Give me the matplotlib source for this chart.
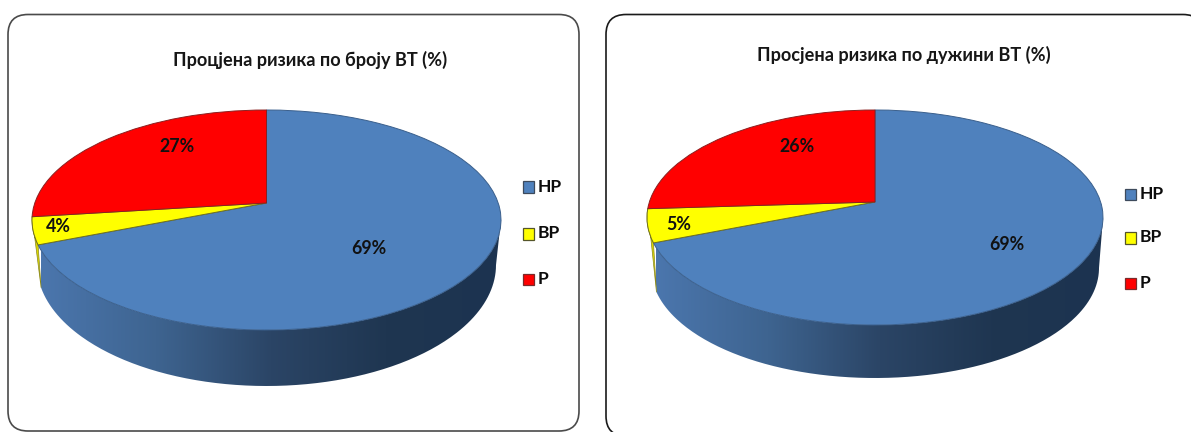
import numpy as np
import matplotlib
matplotlib.use("Agg")
import matplotlib.pyplot as plt
from matplotlib.colors import LinearSegmentedColormap
from matplotlib.patches import FancyBboxPatch, Polygon, Rectangle
from matplotlib.path import Path
from matplotlib.transforms import Transform

plt.rcParams["font.family"] = ["Lato", "Open Sans", "DejaVu Sans"]
plt.rcParams["font.weight"] = "bold"

categories = ["НР", "ВР", "Р"]
colors = ["#4f81bd", "#ffff00", "#ff0000"]
edge_colors = ["#3a5f8c", "#6f6f20", "#8a2020"]

title_count = "Процјена ризика по броју ВТ (%)"
values_count = [69, 4, 27]
title_length = "Просјена ризика по дужини ВТ (%)"
values_length = [69, 5, 26]

W, H = 1191, 432
wall_cmap = LinearSegmentedColormap.from_list(
    "wall", ["#4b76ad", "#3e6490", "#2b4566", "#1f3651", "#1c3350"])


class Tilt(Transform):
    """Perspective view of the unit disc: (x, y) on the disc to pixel position."""
    input_dims = output_dims = 2
    is_separable = False
    has_inverse = False

    def __init__(self, cx, cy, up, down, half_width):
        super().__init__()
        self.k = (down - up) / (down + up)
        self.a = up * (1 + self.k)
        self.b = half_width * np.sqrt(1 - self.k ** 2)
        self.cx, self.cy = cx, cy

    def transform_non_affine(self, values):
        xy = np.asarray(values, float)
        d = 1 + self.k * xy[:, 1]
        return np.column_stack([self.cx + self.b * xy[:, 0] / d,
                                self.cy - self.a * xy[:, 1] / d])


fig = plt.figure(figsize=(W / 100, H / 100), dpi=100, facecolor="white")
ax = fig.add_axes([0, 0, 1, 1])


def rim(tilt, degrees):
    t = np.radians(degrees)
    return tilt.transform_non_affine(np.column_stack([np.sin(t), np.cos(t)]))


def draw_panel(title, values, frame, disc, base, title_xy, label_xy, legend_x, legend_y, frame_color):
    x0, y0, x1, y1 = frame
    ax.add_patch(FancyBboxPatch((x0 + 20, y0 + 20), x1 - x0 - 40, y1 - y0 - 40,
                                boxstyle="round,pad=20,rounding_size=20", fc="white",
                                ec=frame_color, lw=1.2, zorder=1))
    ax.text(*title_xy, title, ha="center", va="center", fontsize=13.1, color="#161616", zorder=6)

    tilt = Tilt(*disc)
    cum = np.cumsum(values) / np.sum(values) * 360

    # side wall under the first slice, shaded from left to right
    arc = rim(tilt, np.linspace(40, cum[0], 300))
    arc = arc[np.argmax(arc[:, 0]):]
    bx, by, brx, bry = base
    left = arc[-1, 0] + 3
    stop = np.arccos((left - bx) / brx)
    t = np.linspace(stop, 0, 200)
    lower = np.column_stack([bx + brx * np.cos(t), by + bry * np.sin(t)])
    outline = np.vstack([arc, lower])
    gradient = np.linspace(0, 1, 256)[None, :]
    image = ax.imshow(gradient, cmap=wall_cmap, extent=(left, outline[:, 0].max(), H, 0),
                      aspect="auto", zorder=2)
    image.set_clip_path(Path(outline), ax.transData)

    # narrow visible wall of the second slice
    sliver = rim(tilt, np.linspace(cum[0], cum[1], 30))
    ax.add_patch(Polygon(np.vstack([sliver, lower[0]]), closed=True, fc="#dcd800",
                         ec="#8a8820", lw=0.5, zorder=2))

    wedges, _ = ax.pie(values, colors=colors, startangle=90, counterclock=False,
                       wedgeprops=dict(linewidth=0.7, zorder=3))
    for wedge, edge in zip(wedges, edge_colors):
        wedge.set_edgecolor(edge)
        wedge.set_transform(tilt + ax.transData)

    for value, xy in zip(values, label_xy):
        ax.text(*xy, f"{value}%", ha="center", va="center", fontsize=12.8, color="#111111", zorder=6)

    for name, color, edge, y in zip(categories, colors, ["#3d4a5c", "#55552a", "#7a2a2a"], legend_y):
        ax.add_patch(Rectangle((legend_x, y), 11.5, 11.5, fc=color, ec=edge, lw=0.9, zorder=5))
        ax.text(legend_x + 15.5, y + 5.5, name, ha="left", va="center", fontsize=12.6,
                color="#0c0c0c", zorder=6)


draw_panel(title_count, values_count,
           frame=(8, 14.5, 579, 431), disc=(266.5, 203, 93, 127, 234.5),
           base=(266.5, 265, 229.5, 121), title_xy=(310, 60),
           label_xy=[(369, 249), (58, 227), (177, 147)],
           legend_x=522.5, legend_y=[181, 228, 273.5], frame_color="#4a4a4a")
draw_panel(title_length, values_length,
           frame=(606, 14.5, 1203, 436), disc=(875, 202, 92, 123, 228),
           base=(875, 268, 224, 110), title_xy=(904, 55),
           label_xy=[(1007, 245), (679, 225), (797, 146)],
           legend_x=1124.5, legend_y=[188.5, 232, 277.5], frame_color="#1a1a1a")

ax.set_aspect("auto")
ax.set_xlim(0, W)
ax.set_ylim(H, 0)
ax.axis("off")

fig.savefig("out.png", dpi=100)
